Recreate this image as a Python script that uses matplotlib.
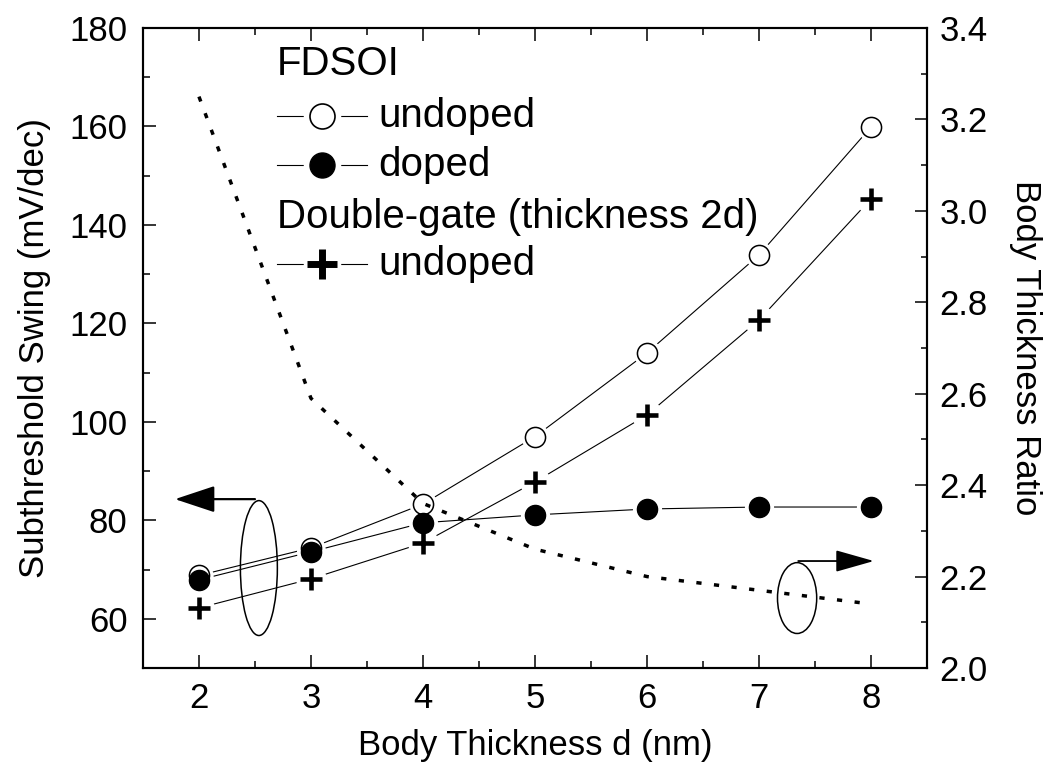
import matplotlib
matplotlib.use('Agg')
import matplotlib.pyplot as plt
from matplotlib.patches import Ellipse
from matplotlib.ticker import MultipleLocator, FormatStrFormatter

# body thickness d (nm)
thickness = [2, 3, 4, 5, 6, 7, 8]

# subthreshold swing (mV/dec), left axis
fdsoi_undoped = [68.8, 74.4, 83.3, 97.0, 114.0, 133.9, 159.9]
fdsoi_doped = [67.9, 73.6, 79.5, 81.1, 82.3, 82.7, 82.7]
dg_undoped = [62.2, 68.1, 75.4, 87.8, 101.4, 120.7, 145.3]

# body thickness ratio, right axis
thickness_ratio = [3.25, 2.59, 2.36, 2.26, 2.20, 2.17, 2.14]

legend_rows = ["FDSOI", "undoped", "doped", "Double-gate (thickness 2d)", "undoped"]

plt.rcParams['font.family'] = ['Liberation Sans', 'DejaVu Sans']


def main():
    fig = plt.figure(figsize=(10.55, 7.79), dpi=100)
    ax = fig.add_axes([0.1355, 0.1425, 0.7432, 0.8215])
    ax2 = ax.twinx()

    # thin connecting lines, then white halos so lines stop short of markers
    for ys in [fdsoi_undoped, fdsoi_doped, dg_undoped]:
        ax.plot(thickness, ys, color='k', lw=0.8, zorder=2)
    ax.plot(thickness, fdsoi_undoped, ls='none', marker='o', ms=20, mfc='white', mec='none', zorder=3)
    ax.plot(thickness, fdsoi_doped, ls='none', marker='o', ms=21, mfc='white', mec='none', zorder=3)
    ax.plot(thickness, dg_undoped, ls='none', marker='o', ms=22, mfc='white', mec='none', zorder=3)

    ax.plot(thickness, fdsoi_undoped, ls='none', marker='o', ms=14.5, mfc='white', mec='k', mew=1.1, zorder=4)
    ax.plot(thickness, fdsoi_doped, ls='none', marker='o', ms=14.5, mfc='k', mec='k', zorder=5)
    ax.plot(thickness, dg_undoped, ls='none', marker='+', ms=16, mec='k', mew=3.3, zorder=5)

    # dotted ratio curve on the right axis
    ax2.plot(thickness, thickness_ratio, color='k', lw=2.5, ls=(0, (1.5, 3.6)), zorder=6)

    # ellipses and arrows showing which axis each group belongs to
    ax.add_patch(Ellipse((2.535, 70.3), 0.33, 27.4, fill=False, ec='k', lw=1.1, zorder=6))
    ax.annotate('', xy=(1.786, 84.3), xytext=(2.5, 84.3),
                arrowprops=dict(arrowstyle='-|>,head_length=2.5,head_width=0.83',
                                mutation_scale=10, lw=1.6, color='k', shrinkA=0, shrinkB=0))
    ax2.add_patch(Ellipse((7.34, 2.153), 0.35, 0.155, fill=False, ec='k', lw=1.1, zorder=6))
    ax2.annotate('', xy=(8.025, 2.234), xytext=(7.35, 2.234),
                 arrowprops=dict(arrowstyle='-|>,head_length=2.4,head_width=0.68',
                                 mutation_scale=10, lw=1.3, color='k', shrinkA=0, shrinkB=0))

    draw_legend(ax)

    ax.set_xlim(1.5, 8.5)
    ax.set_ylim(50, 180)
    ax2.set_ylim(2.0, 3.4)

    ax.xaxis.set_minor_locator(MultipleLocator(0.5))
    ax.yaxis.set_minor_locator(MultipleLocator(10))
    ax2.yaxis.set_major_locator(MultipleLocator(0.2))
    ax2.yaxis.set_minor_locator(MultipleLocator(0.1))
    ax2.yaxis.set_major_formatter(FormatStrFormatter('%.1f'))

    # only label from 60 up, the bottom edge (50) has no label
    ax.set_yticks([60, 80, 100, 120, 140, 160, 180])
    ax.set_xticks(thickness)

    ax.tick_params(axis='x', which='both', direction='in', top=True, labelsize=25, pad=10)
    ax.tick_params(axis='x', which='major', length=9.5, width=1.1)
    ax.tick_params(axis='x', which='minor', length=5, width=1.1)
    ax.tick_params(axis='y', which='both', direction='in', right=False, labelsize=25, pad=11)
    ax.tick_params(axis='y', which='major', length=9.5, width=1.1)
    ax.tick_params(axis='y', which='minor', length=5, width=1.1)
    ax2.tick_params(axis='y', which='both', direction='in', labelsize=25, pad=9)
    ax2.tick_params(axis='y', which='major', length=9, width=1.1)
    ax2.tick_params(axis='y', which='minor', length=4.5, width=1.1)

    for a in [ax, ax2]:
        for s in a.spines.values():
            s.set_linewidth(1.5)

    ax.set_xlabel("Body Thickness d (nm)", fontsize=25, labelpad=10)
    ax.set_ylabel("Subthreshold Swing (mV/dec)", fontsize=25, labelpad=13)
    ax2.set_ylabel("Body Thickness Ratio", fontsize=25, rotation=270, labelpad=39)

    fig.savefig('out.png', dpi=100)


# legend built by hand so the group headers line up with the handle lines
def draw_legend(ax):
    row_y = [0.944, 0.862, 0.786, 0.704, 0.632]
    x0, x1, xm, xt = 0.171, 0.286, 0.228, 0.300
    styles = {
        1: dict(marker='o', ms=18, mfc='white', mec='k', mew=1.2),
        2: dict(marker='o', ms=18, mfc='k', mec='k'),
        4: dict(marker='+', ms=21, mec='k', mew=5),
    }
    for i, label in enumerate(legend_rows):
        y = row_y[i]
        if i in styles:
            ax.plot([x0, x1], [y, y], color='k', lw=0.8, transform=ax.transAxes, zorder=7)
            ax.plot([xm], [y], ls='none', marker='o', ms=27, mfc='white', mec='none',
                    transform=ax.transAxes, zorder=8)
            ax.plot([xm], [y], ls='none', transform=ax.transAxes, zorder=9, **styles[i])
            ax.text(xt, y, label, fontsize=29, va='center', ha='left', transform=ax.transAxes)
        else:
            ax.text(x0, y, label, fontsize=29, va='center', ha='left', transform=ax.transAxes)


if __name__ == "__main__":
    main()
